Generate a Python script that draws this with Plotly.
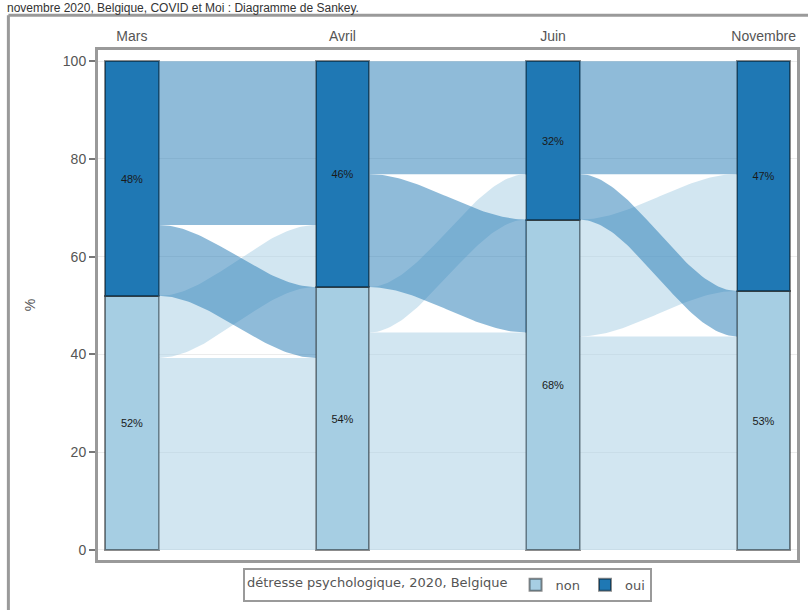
import plotly.graph_objects as go
import numpy as np

# ---- data ----
axis_labels = ["Mars", "Avril", "Juin", "Novembre"]
non_pct = [52.0, 53.8, 67.6, 53.0]
oui_pct = [48.0, 46.2, 32.4, 47.0]
non_text = ["52%", "54%", "68%", "53%"]
oui_text = ["48%", "46%", "32%", "47%"]
# transitions between consecutive survey waves (% of respondents)
oui_to_oui = [33.5, 23.1, 23.1]
oui_to_non = [14.5, 23.1, 9.3]
non_to_oui = [12.7, 9.3, 23.9]
non_to_non = [39.3, 44.5, 43.7]
legend_title = "détresse psychologique, 2020, Belgique"
title_text = "novembre 2020, Belgique, COVID et Moi : Diagramme de Sankey."

# ---- style ----
C_NON = "#a6cee3"
C_OUI = "#1f78b4"
F_NON = "rgba(166,206,227,0.5)"
F_OUI = "rgba(31,120,180,0.5)"
W = 0.255
FONT = "Liberation Sans, Arial, sans-serif"
TXT = "#555555"

xpos = np.arange(1, len(axis_labels) + 1)
fig = go.Figure()


def flow(i, y0lo, y0hi, y1lo, y1hi, color):
    x0 = xpos[i] + W / 2
    x1 = xpos[i + 1] - W / 2
    t = np.linspace(0, 1, 60)
    s = 3 * t**2 - 2 * t**3
    xs = x0 + (x1 - x0) * t
    top = y0hi + (y1hi - y0hi) * s
    bot = y0lo + (y1lo - y0lo) * s
    fig.add_trace(go.Scatter(
        x=np.concatenate([xs, xs[::-1]]),
        y=np.concatenate([top, bot[::-1]]),
        fill="toself", fillcolor=color, mode="lines",
        line=dict(width=0), hoverinfo="skip", showlegend=False))


# non-sourced flows first, then oui-sourced flows on top
for pass_src in ("non", "oui"):
    for i in range(len(axis_labels) - 1):
        n0, n1 = non_pct[i], non_pct[i + 1]
        oo, on, no, nn = oui_to_oui[i], oui_to_non[i], non_to_oui[i], non_to_non[i]
        if pass_src == "non":
            flow(i, 0, nn, 0, nn, F_NON)                 # non -> non
            flow(i, nn, n0, n1, n1 + no, F_NON)          # non -> oui
        else:
            flow(i, n0 + on, 100, n1 + no, 100, F_OUI)   # oui -> oui
            flow(i, n0, n0 + on, n1 - on, n1, F_OUI)     # oui -> non

# strata
for vals, base, txt, col, name in (
        (non_pct, [0] * len(xpos), non_text, C_NON, "non"),
        (oui_pct, non_pct, oui_text, C_OUI, "oui")):
    fig.add_trace(go.Bar(
        x=xpos, y=vals, base=base, width=W, name=name,
        marker=dict(color=col, line=dict(color="rgba(0,0,0,0.45)", width=2)),
        text=txt, textposition="inside", insidetextanchor="middle",
        textangle=0, textfont=dict(size=11, color="#1a1a1a", family=FONT),
        hoverinfo="skip"))

# frame around the figure (decoration)
L, R, T, B = 98, 8, 50, 46
PW, PH = 808 - L - R, 610 - T - B
fx = lambda px: (px - L) / PW
fy = lambda py: (610 - B - py) / PH
FRAME_TOP = 15
frame = [
    dict(type="line", xref="paper", yref="paper", x0=fx(8), x1=fx(8),
         y0=fy(FRAME_TOP), y1=fy(640), line=dict(color="#9a9a9a", width=3)),
    dict(type="line", xref="paper", yref="paper", x0=fx(8), x1=fx(840),
         y0=fy(FRAME_TOP), y1=fy(FRAME_TOP), line=dict(color="#9a9a9a", width=3)),
]

LEGFONT = "DejaVu Sans, Liberation Sans, sans-serif"
fig.update_layout(
    width=808, height=610,
    margin=dict(l=L, r=R, t=T, b=B),
    paper_bgcolor="white", plot_bgcolor="white",
    barmode="overlay", bargap=0,
    font=dict(family=FONT, size=14, color=TXT),
    showlegend=True,
    legend=dict(
        orientation="h", x=fx(449), xanchor="center", y=fy(589), yanchor="middle",
        title=dict(text=legend_title, side="left",
                   font=dict(size=13, color=TXT, family=LEGFONT)),
        font=dict(size=13, color=TXT, family=LEGFONT),
        bordercolor="#9a9a9a", borderwidth=2, bgcolor="white",
        itemwidth=30, traceorder="normal"),
    shapes=frame,
    annotations=[dict(
        text=title_text, xref="paper", yref="paper", x=fx(6), y=fy(0),
        xanchor="left", yanchor="top", showarrow=False, borderpad=0,
        font=dict(size=12, color="#333", family=FONT))],
    xaxis=dict(
        range=[1 - (132 - L) / 211.5, 4 + (800 - 766.5) / 211.5],
        side="top", tickvals=list(xpos), ticktext=axis_labels,
        ticks="outside", ticklen=0, tickcolor="rgba(0,0,0,0)",
        tickfont=dict(size=14, color=TXT),
        showgrid=False, zeroline=False,
        showline=True, mirror=True, linecolor="#9a9a9a", linewidth=3),
    yaxis=dict(
        range=[-2.05, 102.3],
        tickvals=[0, 20, 40, 60, 80, 100],
        ticks="outside", ticklen=6, tickcolor="#777", tickwidth=2,
        tickfont=dict(size=14, color=TXT),
        showgrid=True, gridcolor="#ececec", gridwidth=1, zeroline=False,
        showline=True, mirror=True, linecolor="#9a9a9a", linewidth=3,
        title=dict(text="%", standoff=24, font=dict(size=14, color=TXT))),
)

fig.write_html("out.html")
